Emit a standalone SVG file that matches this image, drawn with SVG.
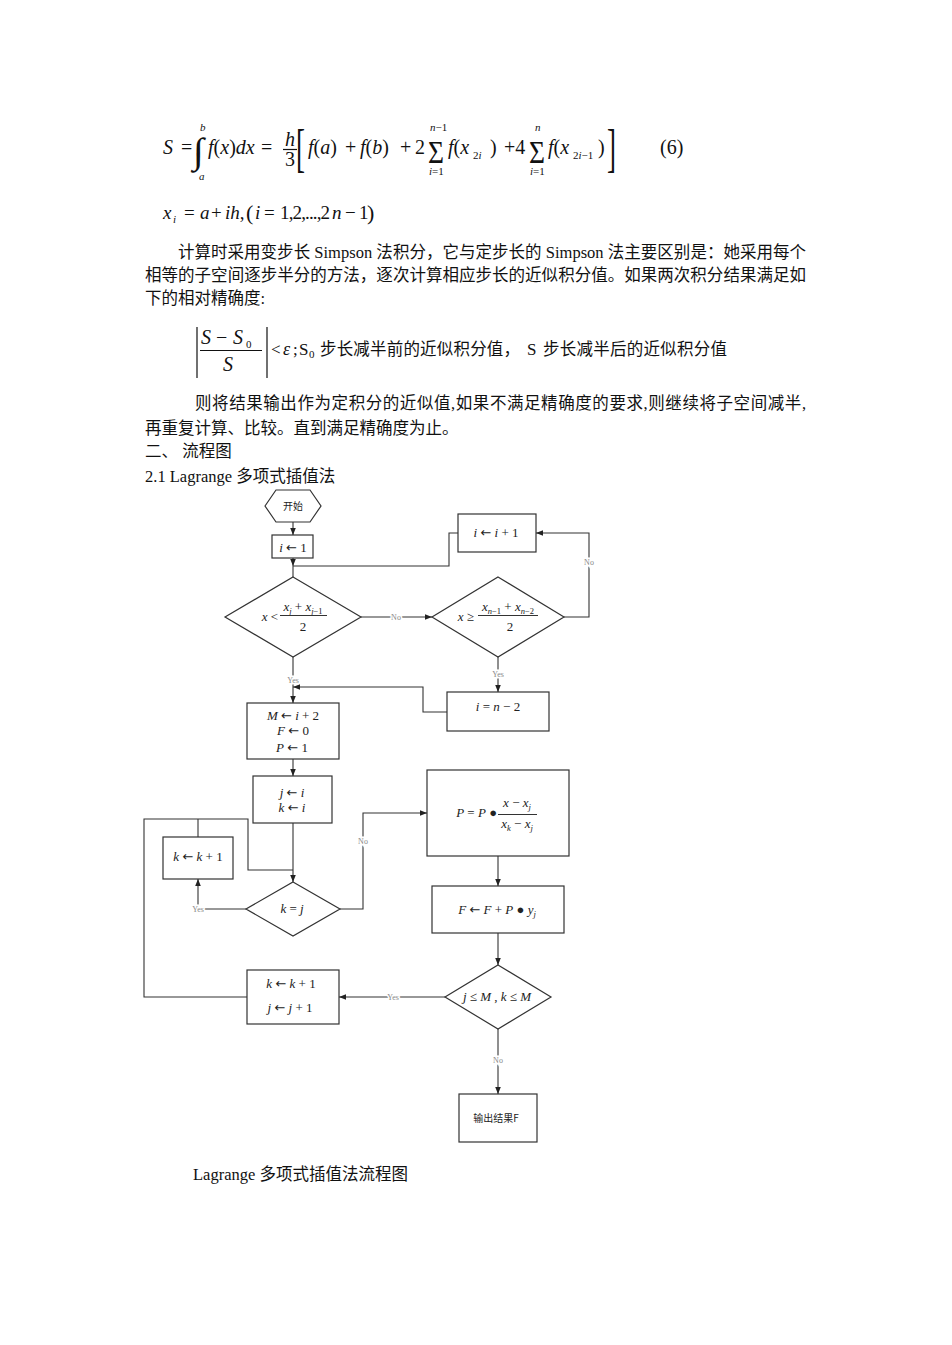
<svg xmlns="http://www.w3.org/2000/svg" width="952" height="1345" viewBox="0 0 952 1345">
<style>
.ln{fill:none;stroke:#333;stroke-width:1.1}
.bx{fill:#fff;stroke:#333;stroke-width:1.2}
.fm{font-family:"Liberation Serif","DejaVu Serif",serif;font-size:13px;fill:#222}
.mid{text-anchor:middle}
.i{font-style:italic}
.sb{font-size:8.5px}
.ar{font-family:"DejaVu Sans",sans-serif;font-size:13px}
.lb{font-family:"Liberation Serif",serif;font-size:8px;fill:#888;stroke:#fff;stroke-width:3;paint-order:stroke;text-anchor:middle}
.tx{font-family:"Liberation Serif","Noto Sans CJK SC",serif;font-size:16.5px;fill:#111}
.m{font-family:"Liberation Serif","DejaVu Serif",serif;font-size:20px;fill:#111}
.ms{font-family:"Liberation Serif",serif;font-size:11px;fill:#111}
.cj{font-family:"Noto Sans CJK SC",sans-serif;font-size:10px;fill:#222}
.bar{stroke:#111;stroke-width:1.2}
</style>
<defs>
<marker id="ah" viewBox="0 0 10 10" refX="10" refY="5" markerWidth="7" markerHeight="7" orient="auto" markerUnits="userSpaceOnUse"><path d="M0,1 L10,5 L0,9 z" fill="#222"/></marker>
</defs>
<rect width="952" height="1345" fill="#fff"/>

<g id="formula6">
<text class="m i" x="163" y="154">S</text>
<text class="m" x="181" y="154">=</text>
<text class="m" x="193" y="163" style="font-size:36px" textLength="11" lengthAdjust="spacingAndGlyphs">∫</text>
<text class="ms i" x="200" y="131">b</text>
<text class="ms i" x="199" y="180">a</text>
<text class="m" x="208" y="154"><tspan class="i">f</tspan>(<tspan class="i">x</tspan>)<tspan class="i">dx</tspan></text>
<text class="m" x="261" y="154">=</text>
<text class="m i" x="285" y="146">h</text>
<line class="bar" x1="283" y1="149.5" x2="297" y2="149.5"/>
<text class="m" x="285" y="166">3</text>
<text class="m" x="296" y="166" style="font-size:52px" textLength="9" lengthAdjust="spacingAndGlyphs">[</text>
<text class="m" x="308" y="154"><tspan class="i">f</tspan>(<tspan class="i">a</tspan>)</text>
<text class="m" x="345" y="154">+</text>
<text class="m" x="360" y="154"><tspan class="i">f</tspan>(<tspan class="i">b</tspan>)</text>
<text class="m" x="400" y="154">+</text>
<text class="m" x="415" y="154">2</text>
<text class="m" x="428" y="163" style="font-size:31px" textLength="16" lengthAdjust="spacingAndGlyphs">Σ</text>
<text class="ms" x="430" y="131"><tspan class="i">n</tspan>−1</text>
<text class="ms" x="429" y="175"><tspan class="i">i</tspan>=1</text>
<text class="m" x="448" y="154"><tspan class="i">f</tspan>(<tspan class="i">x</tspan></text>
<text class="ms" x="473" y="159">2<tspan class="i">i</tspan></text>
<text class="m" x="490" y="154">)</text>
<text class="m" x="504" y="154">+4</text>
<text class="m" x="529" y="163" style="font-size:31px" textLength="16" lengthAdjust="spacingAndGlyphs">Σ</text>
<text class="ms i" x="535" y="131">n</text>
<text class="ms" x="530" y="175"><tspan class="i">i</tspan>=1</text>
<text class="m" x="548" y="154"><tspan class="i">f</tspan>(<tspan class="i">x</tspan></text>
<text class="ms" x="573" y="159">2<tspan class="i">i</tspan>−1</text>
<text class="m" x="598" y="154">)</text>
<text class="m" x="607" y="166" style="font-size:52px" textLength="9" lengthAdjust="spacingAndGlyphs">]</text>
<text class="m" x="660" y="154">(6)</text>
</g>

<g id="formula-xi">
<text class="m i" x="163" y="219" style="font-size:19px">x</text>
<text class="ms i" x="173" y="223">i</text>
<text class="m" x="184" y="219" style="font-size:19px">=</text>
<text class="m i" x="200" y="219" style="font-size:19px">a</text>
<text class="m" x="211" y="219" style="font-size:19px">+</text>
<text class="m" x="225" y="219" style="font-size:19px"><tspan class="i">ih</tspan>,</text>
<text class="m" x="246" y="220" style="font-size:22px">(</text>
<text class="m i" x="255" y="219" style="font-size:19px">i</text>
<text class="m" x="264" y="219" style="font-size:19px">=</text>
<text class="m" x="280" y="219" style="font-size:19px" textLength="50">1,2,...,2</text>
<text class="m i" x="332" y="219" style="font-size:19px">n</text>
<text class="m" x="345" y="219" style="font-size:19px">−</text>
<text class="m" x="359" y="219" style="font-size:19px">1</text>
<text class="m" x="367" y="220" style="font-size:22px">)</text>
</g>

<g id="paragraph1">
<text class="tx" x="178" y="258" textLength="628">计算时采用变步长 Simpson 法积分，它与定步长的 Simpson 法主要区别是：她采用每个</text>
<text class="tx" x="145" y="281" textLength="661">相等的子空间逐步半分的方法，逐次计算相应步长的近似积分值。如果两次积分结果满足如</text>
<text class="tx" x="145" y="304">下的相对精确度:</text>
</g>

<g id="formula-eps">
<line class="bar" x1="197" y1="327" x2="197" y2="378"/>
<line class="bar" x1="267" y1="327" x2="267" y2="378"/>
<text class="m i" x="201" y="344">S</text>
<text class="m" x="216" y="344">−</text>
<text class="m i" x="233" y="344">S</text>
<text class="ms" x="246" y="348">0</text>
<line class="bar" x1="200" y1="350.5" x2="262" y2="350.5"/>
<text class="m i" x="223" y="371">S</text>
<text class="m" x="271" y="355" style="font-size:17px">&lt;</text>
<text class="m i" x="283" y="355" style="font-size:18px">ε</text>
<text class="m" x="293" y="355" style="font-size:17px">;</text>
<text class="m" x="299" y="355" style="font-size:17px">S</text>
<text class="ms" x="309" y="358">0</text>
<text class="tx" x="320" y="355" textLength="200">步长减半前的近似积分值，</text>
<text class="m" x="527" y="355" style="font-size:17px">S</text>
<text class="tx" x="543" y="355" textLength="184">步长减半后的近似积分值</text>
</g>

<g id="paragraph2">
<text class="tx" x="195" y="409" textLength="611">则将结果输出作为定积分的近似值,如果不满足精确度的要求,则继续将子空间减半,</text>
<text class="tx" x="145" y="434">再重复计算、比较。直到满足精确度为止。</text>
<text class="tx" x="145" y="457">二、 流程图</text>
<text class="tx" x="145" y="482">2.1 Lagrange 多项式插值法</text>
</g>

<g id="n-start">
<polygon class="bx" points="265,506 276,490 310,490 321,506 310,522 276,522"/>
<text class="cj mid" x="293" y="510">开始</text>
</g>
<g id="n-i1">
<rect class="bx" x="272" y="535" width="41" height="23"/>
<text class="fm mid" x="293" y="552"><tspan class="i">i</tspan> <tspan class="ar">←</tspan> 1</text>
</g>
<g id="n-inc">
<rect class="bx" x="458" y="514" width="78" height="38"/>
<text class="fm mid" x="496" y="537"><tspan class="i">i</tspan> <tspan class="ar">←</tspan> <tspan class="i">i</tspan> + 1</text>
</g>
<g id="n-d1">
<polygon class="bx" points="293,577 361,617 293,657 225,617"/>
<text class="fm" x="278" y="621" text-anchor="end"><tspan class="i">x</tspan> &lt;</text>
<text class="fm mid" x="303" y="611"><tspan class="i">x</tspan><tspan class="sb i" dy="3">j</tspan><tspan dy="-3"> + </tspan><tspan class="i">x</tspan><tspan class="sb" dy="3"><tspan class="i">j</tspan>−1</tspan></text>
<line class="ln" x1="280" y1="615.5" x2="327" y2="615.5"/>
<text class="fm mid" x="303" y="631">2</text>
</g>
<g id="n-d2">
<polygon class="bx" points="498,577 564,617 498,657 432,617"/>
<text class="fm" x="474" y="621" text-anchor="end"><tspan class="i">x</tspan> ≥</text>
<text class="fm mid" x="508" y="611"><tspan class="i">x</tspan><tspan class="sb" dy="3"><tspan class="i">n</tspan>−1</tspan><tspan dy="-3"> + </tspan><tspan class="i">x</tspan><tspan class="sb" dy="3"><tspan class="i">n</tspan>−2</tspan></text>
<line class="ln" x1="478" y1="615.5" x2="538" y2="615.5"/>
<text class="fm mid" x="510" y="631">2</text>
</g>
<g id="n-in2">
<rect class="bx" x="447" y="692" width="102" height="39"/>
<text class="fm mid" x="498" y="711"><tspan class="i">i</tspan> = <tspan class="i">n</tspan> − 2</text>
</g>
<g id="n-init">
<rect class="bx" x="247" y="703" width="92" height="56"/>
<text class="fm mid" x="293" y="720"><tspan class="i">M</tspan> <tspan class="ar">←</tspan> <tspan class="i">i</tspan> + 2</text>
<text class="fm mid" x="293" y="735"><tspan class="i">F</tspan> <tspan class="ar">←</tspan> 0</text>
<text class="fm mid" x="292" y="752"><tspan class="i">P</tspan> <tspan class="ar">←</tspan> 1</text>
</g>
<g id="n-jk">
<rect class="bx" x="253" y="776" width="79" height="47"/>
<text class="fm mid" x="292" y="797"><tspan class="i">j</tspan> <tspan class="ar">←</tspan> <tspan class="i">i</tspan></text>
<text class="fm mid" x="292" y="812"><tspan class="i">k</tspan> <tspan class="ar">←</tspan> <tspan class="i">i</tspan></text>
</g>
<g id="n-kinc">
<rect class="bx" x="163" y="837" width="70" height="42"/>
<text class="fm mid" x="198" y="861"><tspan class="i">k</tspan> <tspan class="ar">←</tspan> <tspan class="i">k</tspan> + 1</text>
</g>
<g id="n-keqj">
<polygon class="bx" points="293,882 340,909 293,936 246,909"/>
<text class="fm mid" x="292" y="913"><tspan class="i">k</tspan> = <tspan class="i">j</tspan></text>
</g>
<g id="n-p">
<rect class="bx" x="427" y="770" width="142" height="86"/>
<text class="fm" x="497" y="817" text-anchor="end"><tspan class="i">P</tspan> = <tspan class="i">P</tspan> ●</text>
<text class="fm mid" x="517" y="807"><tspan class="i">x</tspan> − <tspan class="i">x</tspan><tspan class="sb i" dy="3">j</tspan></text>
<line class="ln" x1="498" y1="814.5" x2="537" y2="814.5"/>
<text class="fm mid" x="517" y="828"><tspan class="i">x</tspan><tspan class="sb i" dy="3">k</tspan><tspan dy="-3"> − </tspan><tspan class="i">x</tspan><tspan class="sb i" dy="3">j</tspan></text>
</g>
<g id="n-f">
<rect class="bx" x="432" y="886" width="132" height="47"/>
<text class="fm mid" x="497" y="914"><tspan class="i">F</tspan> <tspan class="ar">←</tspan> <tspan class="i">F</tspan> + <tspan class="i">P</tspan> ● <tspan class="i">y</tspan><tspan class="sb i" dy="3">j</tspan></text>
</g>
<g id="n-cond">
<polygon class="bx" points="498,965 551,997 498,1029 445,997"/>
<text class="fm mid" x="497" y="1001"><tspan class="i">j</tspan> ≤ <tspan class="i">M</tspan> , <tspan class="i">k</tspan> ≤ <tspan class="i">M</tspan></text>
</g>
<g id="n-kj">
<rect class="bx" x="247" y="970" width="92" height="54"/>
<text class="fm mid" x="291" y="988"><tspan class="i">k</tspan> <tspan class="ar">←</tspan> <tspan class="i">k</tspan> + 1</text>
<text class="fm mid" x="290" y="1012"><tspan class="i">j</tspan> <tspan class="ar">←</tspan> <tspan class="i">j</tspan> + 1</text>
</g>
<g id="n-out">
<rect class="bx" x="459" y="1094" width="78" height="48"/>
<text class="cj mid" x="496" y="1122">输出结果F</text>
</g>

<g id="connectors">
<path class="ln" d="M293,522 V535" marker-end="url(#ah)"/>
<path class="ln" d="M293,558 V566" marker-end="url(#ah)"/>
<path class="ln" d="M293,566 V577"/>
<path class="ln" d="M458,533 H449 V566 H293"/>
<path class="ln" d="M361,617 H432" marker-end="url(#ah)"/>
<path class="ln" d="M564,617 H589 V533 H536" marker-end="url(#ah)"/>
<path class="ln" d="M498,657 V692" marker-end="url(#ah)"/>
<path class="ln" d="M293,657 V703" marker-end="url(#ah)"/>
<path class="ln" d="M447,712 H423 V687 H293" marker-end="url(#ah)"/>
<path class="ln" d="M293,759 V776" marker-end="url(#ah)"/>
<path class="ln" d="M293,823 V882" marker-end="url(#ah)"/>
<path class="ln" d="M247,997 H144 V819 H248 V870 H293"/>
<path class="ln" d="M198,837 V819"/>
<path class="ln" d="M246,909 H198 V879" marker-end="url(#ah)"/>
<path class="ln" d="M340,909 H363 V813 H427" marker-end="url(#ah)"/>
<path class="ln" d="M498,856 V886" marker-end="url(#ah)"/>
<path class="ln" d="M498,933 V965" marker-end="url(#ah)"/>
<path class="ln" d="M445,997 H339" marker-end="url(#ah)"/>
<path class="ln" d="M498,1029 V1094" marker-end="url(#ah)"/>
<text class="lb" x="396" y="620">No</text>
<text class="lb" x="589" y="565">No</text>
<text class="lb" x="498" y="677">Yes</text>
<text class="lb" x="293" y="683">Yes</text>
<text class="lb" x="198" y="912">Yes</text>
<text class="lb" x="363" y="844">No</text>
<text class="lb" x="393" y="1000">Yes</text>
<text class="lb" x="498" y="1063">No</text>
</g>

<text id="caption" class="tx" x="193" y="1180">Lagrange 多项式插值法流程图</text>
</svg>
